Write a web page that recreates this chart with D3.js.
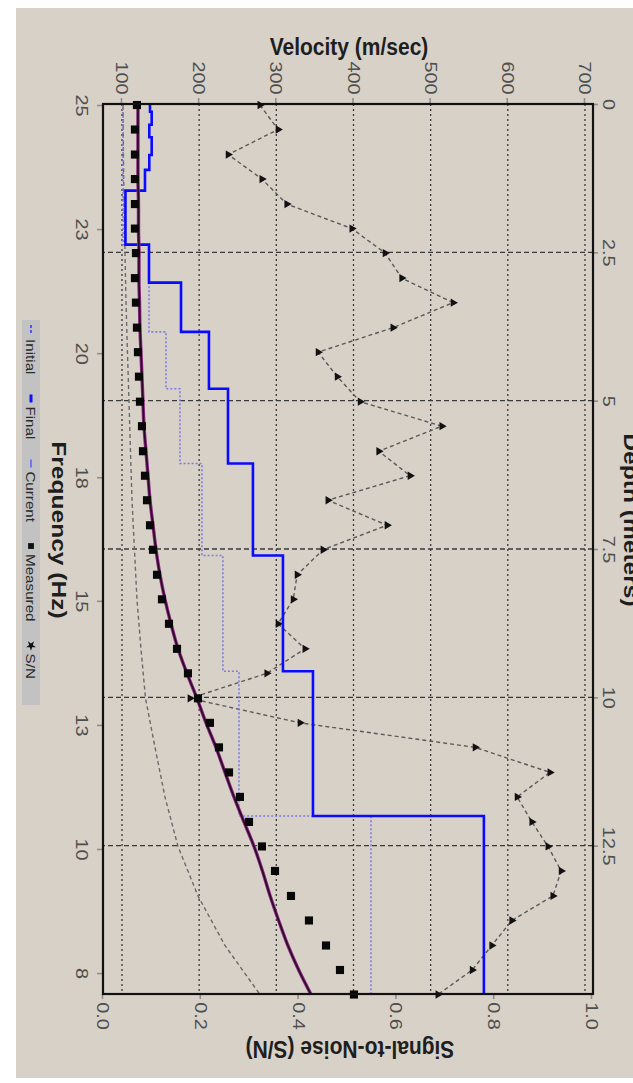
<!DOCTYPE html>
<meta charset="utf-8">
<script src="https://d3js.org/d3.v7.min.js"></script>
<style>
body { margin: 0; background: #fff; }
text { font-family: "Liberation Sans", Arial, sans-serif; }
</style>
<div id="my_dataviz"></div>
<script>

// dispersion points (Hz) shared by measured, current curve and S/N
var freq = [25.00, 24.52, 24.03, 23.55, 23.06, 22.58, 22.10, 21.61, 21.13, 20.64,
            20.16, 19.68, 19.19, 18.71, 18.22, 17.74, 17.26, 16.77, 16.29, 15.80,
            15.32, 14.84, 14.35, 13.87, 13.38, 12.90, 12.42, 11.93, 11.45, 10.96,
            10.48, 10.00, 9.51, 9.03, 8.54, 8.06, 7.58];
var measuredVel = [119.4, 116.8, 116.8, 116.8, 116.8, 116.8, 118.1, 116.8, 118.1, 119.4,
                   120.7, 122.0, 123.3, 125.9, 127.2, 129.8, 132.4, 136.3, 140.2, 145.4,
                   151.8, 160.9, 171.3, 185.5, 198.5, 214.0, 225.7, 238.7, 252.9, 264.6,
                   281.4, 298.3, 319.0, 342.3, 364.4, 382.5, 400.6];
var currentVel = [120.7, 120.7, 120.7, 120.7, 121.4, 121.4, 122.0, 122.0, 122.7, 123.3,
                  124.6, 125.9, 127.2, 128.5, 131.1, 133.7, 136.3, 140.2, 144.1, 149.2,
                  155.7, 163.5, 172.6, 184.2, 197.2, 208.9, 221.8, 233.5, 245.1, 258.1,
                  271.1, 282.0, 292.0, 303.0, 315.0, 329.0, 345.0];
var snRatio = [0.321, 0.358, 0.256, 0.325, 0.376, 0.509, 0.577, 0.611, 0.716, 0.593,
               0.440, 0.479, 0.526, 0.693, 0.564, 0.628, 0.460, 0.581, 0.450, 0.397,
               0.389, 0.358, 0.413, 0.335, 0.178, 0.403, 0.761, 0.914, 0.847, 0.877,
               0.910, 0.937, 0.920, 0.836, 0.795, 0.755, 0.685];

// dispersion curve of the initial model
var initialCurveFreq = [25.00, 24.03, 23.06, 22.10, 21.13, 20.16, 19.19, 18.22, 17.26, 16.29,
                        15.32, 14.35, 13.38, 12.42, 11.45, 10.48, 9.51, 8.54, 7.58];
var initialCurveVel = [101.3, 101.9, 102.6, 103.9, 105.2, 107.1, 109.1, 111.0, 113.0, 116.2,
                       119.4, 124.6, 130.5, 142.8, 155.7, 172.6, 198.5, 233.5, 278.8];

// shear velocity profiles: layer top depth (m) and velocity (m/s)
var finalTop = [0, 0.13, 0.35, 0.56, 0.86, 1.11, 1.46, 2.37, 3.01, 3.84, 4.80, 6.06, 7.61, 9.56, 12.0];
var finalVel = [136.3, 138.5, 135.4, 138.5, 135.4, 129.8, 104.5, 135.0, 176.5, 212.7, 237.4, 269.7, 308.6, 347.5, 569.0];
var initialTop = [0, 2.37, 3.84, 4.80, 6.06, 7.61, 9.56, 12.0];
var initialVel = [101.5, 135.0, 157.0, 175.1, 203.6, 230.8, 251.6, 422.7];
var maxDepth = 15;

// axes
var velTicks = [100, 200, 300, 400, 500, 600, 700];
var snTicks = [0, 0.2, 0.4, 0.6, 0.8, 1.0];
var depthTicks = [0, 2.5, 5, 7.5, 10, 12.5];
var freqTicks = [25, 22.57, 20.14, 17.71, 15.29, 12.86, 10.43, 8];
var freqTickLabels = ["25", "23", "20", "18", "15", "13", "10", "8"];
var legendLabels = ["Initial", "Final", "Current", "Measured", "S/N"];

// the chart is drawn lying on its side: build it flat, then turn it 90deg
var W = 1083, H = 633;
var margin = {top: 40, right: 89, bottom: 103, left: 104},
    width = W - margin.left - margin.right,
    height = H - margin.top - margin.bottom;
var S = 1.17; // text in the picture is stretched along the frequency direction

var svg = d3.select("#my_dataviz")
  .append("svg")
    .attr("width", H)
    .attr("height", W);

svg.append("rect")
  .attr("x", 16).attr("y", 8)
  .attr("width", H - 16).attr("height", W - 13)
  .attr("fill", "#d7d1c8");

var g = svg.append("g")
  .attr("transform", "translate(" + H + ",0) rotate(90)");

var plot = g.append("g")
  .attr("transform", "translate(" + margin.left + "," + margin.top + ")");

var x = d3.scaleLinear().domain([25.02, 7.59]).range([0, width]);
var xDepth = d3.scaleLinear().domain([0, maxDepth]).range([0, width]);
var y = d3.scaleLinear().domain([75.4, 710.4]).range([height, 0]);
var ySn = d3.scaleLinear().domain([0, 1]).range([height, 1]);

// grid
plot.append("g").selectAll("line")
  .data(velTicks).enter().append("line")
    .attr("x1", 0).attr("x2", width)
    .attr("y1", function(d){ return y(d); }).attr("y2", function(d){ return y(d); })
    .attr("stroke", "#3a3a3a").attr("stroke-width", 1.3)
    .attr("stroke-dasharray", "2,3");
plot.append("g").selectAll("line")
  .data(depthTicks.filter(function(d){ return d > 0; })).enter().append("line")
    .attr("x1", function(d){ return xDepth(d); }).attr("x2", function(d){ return xDepth(d); })
    .attr("y1", 0).attr("y2", height)
    .attr("stroke", "#3a3a3a").attr("stroke-width", 1.3)
    .attr("stroke-dasharray", "5,3");

function styleAxis(sel) {
  sel.attr("font-size", 17).attr("font-family", "Liberation Sans, Arial, sans-serif");
  sel.select(".domain").remove();
  sel.selectAll(".tick line").attr("stroke", "#8e8e8e").attr("stroke-width", 1.6);
  sel.selectAll(".tick text").attr("fill", "#4e4e4e").attr("transform", "scale(" + S + ",1)");
}

plot.append("g")
  .call(d3.axisLeft(y).tickValues(velTicks).tickSize(6).tickPadding(2))
  .call(styleAxis);
plot.append("g")
  .attr("transform", "translate(0," + height + ")")
  .call(d3.axisBottom(x).tickValues(freqTicks).tickSize(6).tickPadding(9)
        .tickFormat(function(d, i){ return freqTickLabels[i]; }))
  .call(styleAxis);
plot.append("g")
  .attr("transform", "translate(" + width + ",0)")
  .call(d3.axisRight(ySn).tickValues(snTicks).tickSize(5).tickPadding(2)
        .tickFormat(d3.format(".1f")))
  .call(styleAxis);
plot.append("g")
  .call(d3.axisTop(xDepth).tickValues(depthTicks).tickSize(5).tickPadding(5)
        .tickFormat(d3.format("")))
  .call(styleAxis);

// initial model dispersion curve
var initialCurve = initialCurveFreq.map(function(f, i){ return {f: f, v: initialCurveVel[i]}; });
plot.append("path")
  .datum(initialCurve)
  .attr("fill", "none").attr("stroke", "#6a6a6a").attr("stroke-width", 1.4)
  .attr("stroke-dasharray", "4,3")
  .attr("d", d3.line().x(function(d){ return x(d.f); }).y(function(d){ return y(d.v); }));

// signal to noise
var sn = freq.map(function(f, i){ return {f: f, s: snRatio[i]}; });
plot.append("path")
  .datum(sn)
  .attr("fill", "none").attr("stroke", "#5a5a5a").attr("stroke-width", 1.4)
  .attr("stroke-dasharray", "4,3")
  .attr("d", d3.line().x(function(d){ return x(d.f); }).y(function(d){ return ySn(d.s); }));
plot.append("g").selectAll("path")
  .data(sn).enter().append("path")
    .attr("transform", function(d){ return "translate(" + x(d.f) + "," + ySn(d.s) + ")"; })
    .attr("d", d3.symbol().type(d3.symbolTriangle).size(30))
    .attr("fill", "#111");

// velocity profiles
function profile(tops, vels) {
  var pts = tops.map(function(t, i){ return {d: t, v: vels[i]}; });
  pts.push({d: maxDepth, v: vels[vels.length - 1]});
  return pts;
}
var stepLine = d3.line().curve(d3.curveStepAfter)
  .x(function(d){ return xDepth(d.d); }).y(function(d){ return y(d.v); });

plot.append("path")
  .datum(profile(initialTop, initialVel))
  .attr("fill", "none").attr("stroke", "#7d7de6").attr("stroke-width", 1.6)
  .attr("stroke-dasharray", "2,2")
  .attr("d", stepLine);
plot.append("path")
  .datum(profile(finalTop, finalVel))
  .attr("fill", "none").attr("stroke", "#0a0aff").attr("stroke-width", 2.6)
  .attr("d", stepLine);

// current model dispersion curve
var current = freq.map(function(f, i){ return {f: f, v: currentVel[i]}; });
var curveLine = d3.line().curve(d3.curveMonotoneX)
  .x(function(d){ return x(d.f); }).y(function(d){ return y(d.v); });
plot.append("path").datum(current)
  .attr("fill", "none").attr("stroke", "#8a2a80").attr("stroke-width", 3.4)
  .attr("d", curveLine);
plot.append("path").datum(current)
  .attr("fill", "none").attr("stroke", "#2a0826").attr("stroke-width", 1.6)
  .attr("d", curveLine);

// measured
plot.append("g").selectAll("path")
  .data(freq).enter().append("path")
    .attr("transform", function(d, i){ return "translate(" + x(d) + "," + y(measuredVel[i]) + ")"; })
    .attr("d", d3.symbol().type(d3.symbolSquare).size(66))
    .attr("fill", "#080808");

// frame
plot.append("rect")
  .attr("width", width).attr("height", height)
  .attr("fill", "none").attr("stroke", "#111").attr("stroke-width", 2.2);

// titles
function title(txt, u, v, rot) {
  g.append("text")
    .attr("transform", "translate(" + u + "," + v + ") scale(" + S + ",1)" + (rot ? " rotate(" + rot + ")" : ""))
    .attr("text-anchor", "middle")
    .attr("font-size", 21).attr("font-weight", "bold").attr("fill", "#1e1e1e")
    .text(txt);
}
title("Velocity (m/sec)", 55, H - 349, -90);
title("Signal-to-Noise (S/N)", 1041, H - 350, 90);
title("Frequency (Hz)", 530, H - 52, 0);
title("Depth (meters)", 520, 9, 0);

// legend
var legend = g.append("g").attr("transform", "translate(320," + (H - 40) + ")");
legend.append("rect")
  .attr("width", 385).attr("height", 18)
  .attr("fill", "#c2c2c2");
var lx = 5;
legendLabels.forEach(function(name, i) {
  var item = legend.append("g").attr("transform", "translate(" + lx + ",9)");
  if (i === 0) {
    item.append("line").attr("x1", 0).attr("x2", 10).attr("stroke", "#3a3aff")
      .attr("stroke-width", 1.6).attr("stroke-dasharray", "3,2");
  } else if (i === 1) {
    item.append("line").attr("x1", 2).attr("x2", 10).attr("stroke", "#1010ff").attr("stroke-width", 3);
  } else if (i === 2) {
    item.append("line").attr("x1", 2).attr("x2", 10).attr("stroke", "#5a5aff").attr("stroke-width", 1.5);
  } else if (i === 3) {
    item.append("path").attr("transform", "translate(6,0)")
      .attr("d", d3.symbol().type(d3.symbolSquare).size(34)).attr("fill", "#111");
  } else {
    item.append("path").attr("transform", "translate(6,0) rotate(90)")
      .attr("d", d3.symbol().type(d3.symbolStar).size(30)).attr("fill", "#111");
  }
  var t = item.append("text")
    .attr("transform", "translate(14,0) scale(" + S + ",1)")
    .attr("dy", "0.35em")
    .attr("font-size", 13).attr("fill", "#2a2a2a")
    .text(name);
  lx += 14 + t.node().getComputedTextLength() * S + 18;
});

</script>
